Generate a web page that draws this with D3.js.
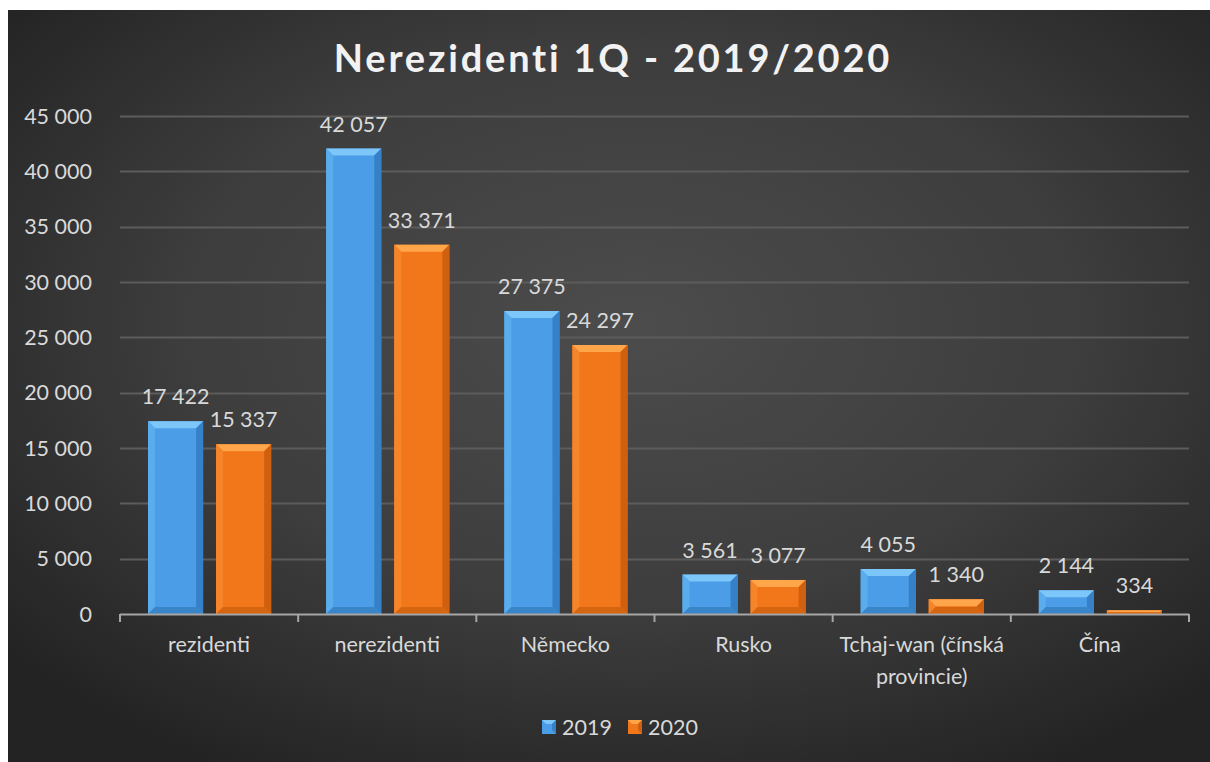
<!DOCTYPE html>
<html>
<head>
<meta charset="utf-8">
<script src="https://cdn.jsdelivr.net/npm/d3@7"></script>
<style>
  html, body { margin: 0; padding: 0; background: #fff; }
  svg { display: block; font-family: Lato, "Open Sans", sans-serif; }
</style>
</head>
<body>
<div id="chart"></div>
<script>
// data
const categories = ['rezidenti', 'nerezidenti', 'Německo', 'Rusko', 'Tchaj-wan (čínská provincie)', 'Čína'];
const series = ['2019', '2020'];
const values2019 = [17422, 42057, 27375, 3561, 4055, 2144];
const values2020 = [15337, 33371, 24297, 3077, 1340, 334];
const yTicks = [0, 5000, 10000, 15000, 20000, 25000, 30000, 35000, 40000, 45000];
const title = 'Nerezidenti 1Q - 2019/2020';

const W = 1210, H = 762;
const M = { top: 116, right: 21, bottom: 148, left: 120 };
const FS = 21.5;

const palette = {
  '2019': { face: '#4a9de6', top: '#7cc6fa', left: '#5aadec', right: '#3580c6', bottom: '#3a85c8' },
  '2020': { face: '#f2761a', top: '#ffa54a', left: '#f6852a', right: '#cf600f', bottom: '#d56510' }
};

const loc = d3.formatLocale({ decimal: ',', thousands: '\u00a0', grouping: [3], currency: ['', ''] });
const fmt = loc.format(',');

const svg = d3.select('#chart').append('svg').attr('width', W).attr('height', H);
const defs = svg.append('defs');
const bg = defs.append('radialGradient').attr('id', 'bg')
  .attr('cx', '52%').attr('cy', '42%').attr('r', '68%');
bg.append('stop').attr('offset', '0%').attr('stop-color', '#4c4c4c');
bg.append('stop').attr('offset', '55%').attr('stop-color', '#3d3d3d');
bg.append('stop').attr('offset', '100%').attr('stop-color', '#232323');

svg.append('rect').attr('x', 8).attr('y', 10).attr('width', W - 8).attr('height', H - 10)
  .attr('fill', 'url(#bg)');

svg.append('text')
  .attr('x', 613).attr('y', 72)
  .attr('text-anchor', 'middle')
  .attr('fill', '#f2f2f2')
  .attr('font-size', 38).attr('font-weight', 700)
  .attr('letter-spacing', 2.8)
  .text(title);

const innerW = W - M.left - M.right, innerH = H - M.top - M.bottom;
const g = svg.append('g').attr('transform', `translate(${M.left},${M.top})`);

const x = d3.scaleBand().domain(categories).range([0, innerW]);
const x1 = d3.scaleBand().domain(series).range([28, x.bandwidth() - 27]).paddingInner(0.19);
const y = d3.scaleLinear().domain([0, 45000]).range([innerH, 0]);

// gridlines + y labels
g.append('g').selectAll('line').data(yTicks.slice(1)).join('line')
  .attr('x1', 0).attr('x2', innerW)
  .attr('y1', d => Math.round(y(d)) + 0.5).attr('y2', d => Math.round(y(d)) + 0.5)
  .attr('stroke', '#5c5c5c').attr('stroke-width', 2);

g.append('g').selectAll('text').data(yTicks).join('text')
  .attr('x', -28).attr('y', d => y(d) + 7.5)
  .attr('text-anchor', 'end')
  .attr('fill', '#d9d9d9').attr('font-size', FS)
  .text(d => fmt(d));

// bars
const rows = categories.map((c, i) => ({ cat: c, vals: [
  { s: '2019', v: values2019[i] }, { s: '2020', v: values2020[i] }
] }));

function bevelBar(sel, d) {
  const x0 = x1(d.s), w = x1.bandwidth();
  const y0 = y(d.v), h = innerH - y0;
  const b = Math.min(7, h / 2, w / 2);
  const c = palette[d.s];
  sel.append('rect').attr('x', x0).attr('y', y0).attr('width', w).attr('height', h).attr('fill', c.face);
  const poly = (pts, fill) => sel.append('polygon').attr('points', pts.map(p => p.join(',')).join(' ')).attr('fill', fill);
  const x2 = x0 + w, y2 = y0 + h;
  poly([[x0, y0], [x2, y0], [x2 - b, y0 + b], [x0 + b, y0 + b]], c.top);
  poly([[x0, y0], [x0 + b, y0 + b], [x0 + b, y2 - b], [x0, y2]], c.left);
  poly([[x2, y0], [x2, y2], [x2 - b, y2 - b], [x2 - b, y0 + b]], c.right);
  poly([[x0, y2], [x0 + b, y2 - b], [x2 - b, y2 - b], [x2, y2]], c.bottom);
}

const groups = g.append('g').selectAll('g').data(rows).join('g')
  .attr('transform', d => `translate(${x(d.cat)},0)`);
groups.each(function (r) {
  const gg = d3.select(this);
  r.vals.forEach(d => {
    bevelBar(gg.append('g'), d);
    gg.append('text')
      .attr('x', x1(d.s) + x1.bandwidth() / 2)
      .attr('y', y(d.v) - 17)
      .attr('text-anchor', 'middle')
      .attr('fill', '#d9d9d9').attr('font-size', FS)
      .text(fmt(d.v));
  });
});

// x axis
const xa = g.append('g').attr('transform', `translate(0,${innerH})`);
xa.append('line').attr('x1', 0).attr('x2', innerW).attr('y1', 0.5).attr('y2', 0.5)
  .attr('stroke', '#a6a6a6').attr('stroke-width', 2);
const bounds = categories.map(c => x(c)).concat([innerW]);
xa.selectAll('line.tk').data(bounds).join('line').attr('class', 'tk')
  .attr('x1', d => d).attr('x2', d => d).attr('y1', 0).attr('y2', 8)
  .attr('stroke', '#a6a6a6').attr('stroke-width', 2);

xa.selectAll('text.cat').data(categories).join('text').attr('class', 'cat')
  .attr('text-anchor', 'middle')
  .attr('fill', '#d9d9d9').attr('font-size', FS)
  .each(function (c) {
    const t = d3.select(this);
    const cx = x(c) + x.bandwidth() / 2;
    const words = c.split(' ');
    let line = [], ln = 0;
    let ts = t.append('tspan').attr('x', cx).attr('y', 38);
    words.forEach(wd => {
      line.push(wd);
      ts.text(line.join(' '));
      if (ts.node().getComputedTextLength() > x.bandwidth() && line.length > 1) {
        line.pop();
        ts.text(line.join(' '));
        line = [wd];
        ln++;
        ts = t.append('tspan').attr('x', cx).attr('y', 38 + ln * 32).text(wd);
      }
    });
  });

// legend
const lg = svg.append('g').attr('transform', 'translate(542,720)');
const li = lg.selectAll('g').data(series).join('g')
  .attr('transform', (d, i) => `translate(${i * 86},0)`);
li.each(function (s) {
  const gg = d3.select(this);
  const c = palette[s];
  gg.append('rect').attr('x', 0).attr('y', 0).attr('width', 14).attr('height', 14).attr('fill', c.face);
  gg.append('polygon').attr('points', '0,0 14,0 10,4 4,4').attr('fill', c.top);
  gg.append('polygon').attr('points', '14,0 14,14 10,10 10,4').attr('fill', c.right);
  gg.append('text').attr('x', 20).attr('y', 15).attr('fill', '#d9d9d9').attr('font-size', FS).text(s);
});
</script>
</body>
</html>
